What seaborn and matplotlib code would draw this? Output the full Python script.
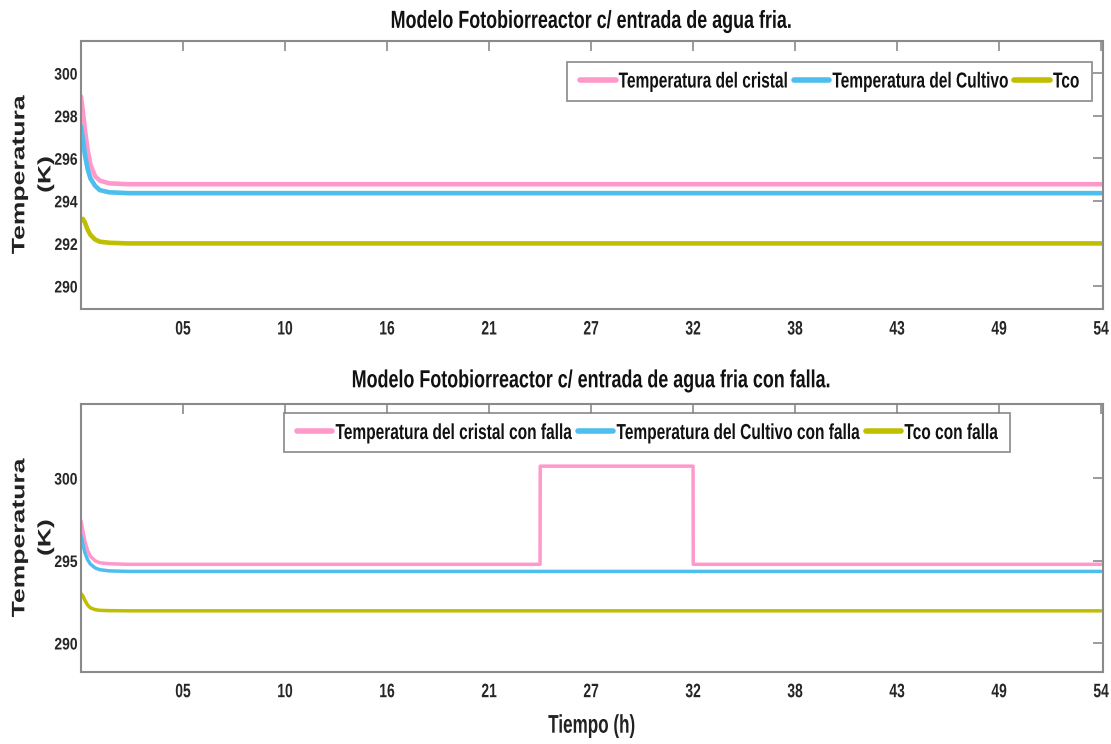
import numpy as np
import pandas as pd
import matplotlib
matplotlib.use("Agg")
import matplotlib.pyplot as plt
import matplotlib.patheffects as pe
from matplotlib.transforms import Affine2D
import seaborn as sns

# ---------------- data ----------------
t_top = [0, 0.1, 0.2, 0.35, 0.5, 0.75, 1.0, 1.5, 2.5, 54]
cristal_top = [298.9, 298.2, 297.4, 296.4, 295.7, 295.15, 294.95, 294.82, 294.78, 294.78]
cultivo_top = [297.5, 296.9, 296.2, 295.5, 295.05, 294.7, 294.5, 294.4, 294.36, 294.36]
tco_top = [293.1, 293.15, 293.0, 292.65, 292.4, 292.18, 292.08, 292.03, 292.0, 292.0]

t_bot = [0, 0.1, 0.2, 0.35, 0.5, 0.75, 1.0, 1.5, 2.5, 24.3, 24.31, 32.4, 32.41, 54]
cristal_bot = [297.4, 296.8, 296.2, 295.6, 295.25, 294.98, 294.86, 294.8, 294.77, 294.77,
               300.72, 300.72, 294.77, 294.77]
cultivo_bot = [296.5, 296.0, 295.5, 295.05, 294.78, 294.55, 294.44, 294.37, 294.34, 294.34,
               294.34, 294.34, 294.34, 294.34]
tco_bot = [293.0, 292.85, 292.6, 292.3, 292.13, 292.02, 291.98, 291.96, 291.95, 291.95,
           291.95, 291.95, 291.95, 291.95]

xtick_pos = [5.4, 10.8, 16.2, 21.6, 27.0, 32.4, 37.8, 43.2, 48.6, 54.0]
xtick_labels = ["05", "10", "16", "21", "27", "32", "38", "43", "49", "54"]

labels_top = ["Temperatura del cristal", "Temperatura del Cultivo", "Tco"]
labels_bot = ["Temperatura del cristal con falla", "Temperatura del Cultivo con falla",
              "Tco con falla"]
colors = ["#FF99CC", "#4DBEEE", "#BFBF00"]

title_top = "Modelo Fotobiorreactor c/ entrada de agua fria."
title_bot = "Modelo Fotobiorreactor c/ entrada de agua fria con falla."


# glyph stretch (the reference text is a distorted Arial)
class Stretch(pe.AbstractPathEffect):
    def __init__(self, sy=1.0, sx=1.0, yc=36.0):
        super().__init__()
        self.sy = sy
        self.sx = sx
        self.yc = yc

    def draw_path(self, renderer, gc, tpath, affine, rgbFace=None):
        xc = 0.0
        if self.sx != 1.0 and len(tpath.vertices):
            xs = tpath.vertices[:, 0]
            xc = 0.5 * (xs.min() + xs.max())
        st = (Affine2D().translate(-xc, -self.yc).scale(self.sx, self.sy)
              .translate(xc, self.yc))
        renderer.draw_path(gc, tpath, st + affine, rgbFace)


# ---------------- style ----------------
sns.set_theme(style="white")
plt.rcParams["font.family"] = ["Liberation Sans", "DejaVu Sans"]

df_top = pd.concat([
    pd.DataFrame({"t": t_top, "T": v, "serie": lab})
    for v, lab in zip([cristal_top, cultivo_top, tco_top], labels_top)
])
df_bot = pd.concat([
    pd.DataFrame({"t": t_bot, "T": v, "serie": lab})
    for v, lab in zip([cristal_bot, cultivo_bot, tco_bot], labels_bot)
])

fig = plt.figure(figsize=(11.11, 7.44), dpi=100)
ax1 = fig.add_axes([0.0729, 0.5847, 0.9199, 0.3606])
ax2 = fig.add_axes([0.0729, 0.0972, 0.9199, 0.3594])

sns.lineplot(data=df_top, x="t", y="T", hue="serie", palette=colors, ax=ax1,
             linewidth=3.3, estimator=None, sort=False)
sns.lineplot(data=df_bot, x="t", y="T", hue="serie", palette=colors, ax=ax2,
             linewidth=2.5, estimator=None, sort=False)

ax1.set_ylim(288.92, 301.52)
ax1.set_yticks([290, 292, 294, 296, 298, 300])
ax2.set_ylim(288.26, 304.47)
ax2.set_yticks([290, 295, 300])

spine_col = "#8a8a8a"
for ax in (ax1, ax2):
    ax.set_xlim(0, 54.1)
    ax.set_xticks(xtick_pos)
    ax.set_xticklabels(xtick_labels)
    ax.tick_params(direction="in", length=7, width=1.2, color=spine_col,
                   top=True, right=True, labelsize=10, labelcolor="#262626")
    ax.tick_params(axis="x", pad=9)
    ax.tick_params(axis="y", pad=2.5)
    for lab in ax.get_xticklabels():
        lab.set_fontweight("bold")
        lab.set_path_effects([Stretch(sy=1.4)])
    for lab in ax.get_yticklabels():
        lab.set_fontweight("bold")
        lab.set_path_effects([Stretch(sy=1.2)])
    for s in ax.spines.values():
        s.set_color(spine_col)
        s.set_linewidth(1.5)
    ax.set_xlabel("")
    yl = ax.set_ylabel("Temperatura\n(K)", fontsize=13, fontweight="bold",
                       linespacing=1.7, color="#222222")
    yl.set_path_effects([Stretch(sx=1.47)])
    ax.yaxis.set_label_coords(-0.026, 0.5)

t1 = ax1.set_title(title_top, fontsize=12.9, fontweight="bold", pad=11, color="#111111")
t2 = ax2.set_title(title_bot, fontsize=12.9, fontweight="bold", pad=14, color="#111111")
xl = ax2.set_xlabel("Tiempo (h)", fontsize=12.3, fontweight="bold", labelpad=14,
                    color="#222222")
for t in (t1, t2):
    t.set_path_effects([Stretch(sy=1.38)])
xl.set_path_effects([Stretch(sy=1.5)])

leg_kw = dict(ncol=3, frameon=True, fancybox=False, fontsize=11.15, handlelength=2.3,
              handletextpad=0.2, columnspacing=0.35, borderpad=0.8, borderaxespad=0)
l1 = ax1.legend(loc="upper right", bbox_to_anchor=(0.989, 0.921), **leg_kw)
l2 = ax2.legend(loc="upper left", bbox_to_anchor=(0.199, 0.966), **leg_kw)
for lg in (l1, l2):
    fr = lg.get_frame()
    fr.set_edgecolor("#777777")
    fr.set_linewidth(1.3)
    for txt in lg.get_texts():
        txt.set_fontweight("bold")
        txt.set_color("#111111")
        txt.set_path_effects([Stretch(sy=1.4)])
    for line in lg.get_lines():
        line.set_linewidth(4)

fig.savefig("out.png", dpi=100, facecolor="white")
